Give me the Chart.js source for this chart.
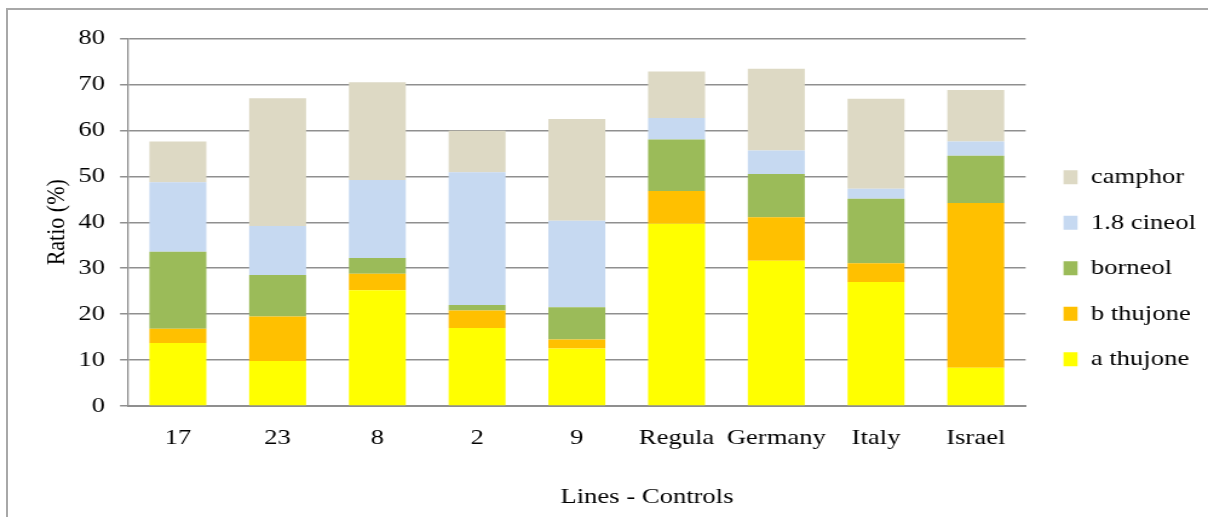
<!DOCTYPE html>
<html>
<head>
<meta charset="utf-8">
<script src="https://cdn.jsdelivr.net/npm/chart.js@4/dist/chart.umd.min.js"></script>
<style>
  html, body { margin: 0; padding: 0; background: #fff; overflow: hidden; }
  #wrap { position: relative; width: 1208px; height: 517px; overflow: hidden; }
  #frame {
    position: absolute; left: 6px; top: 8px; width: 1400px; height: 700px;
    border: 2px solid #a8a8a8; box-sizing: border-box;
  }
  /* the chart is laid out on a narrower canvas and widened to the page */
  #stretch {
    position: absolute; left: 0; top: 0; width: 998px; height: 517px;
    transform: scaleX(1.2104); transform-origin: 0 0;
  }
  canvas { display: block; }
</style>
</head>
<body>
<div id="wrap">
  <div id="frame"></div>
  <div id="stretch"><canvas id="chart" width="998" height="517"></canvas></div>
</div>
<script>
// Samples (lines) and reference controls
const categories = ['17', '23', '8', '2', '9', 'Regula', 'Germany', 'Italy', 'Israel'];

// Share of each compound in the oil, %
const aThujone = [13.7, 9.8, 25.2, 17.0, 12.5, 39.7, 31.6, 27.0, 8.3];
const bThujone = [3.1, 9.7, 3.6, 3.8, 2.0, 7.1, 9.5, 4.1, 35.9];
const borneol  = [16.8, 9.0, 3.4, 1.2, 7.0, 11.2, 9.4, 14.0, 10.3];
const cineol   = [15.1, 10.7, 17.0, 28.9, 18.8, 4.7, 5.1, 2.2, 3.1];
const camphor  = [8.9, 27.8, 21.3, 9.0, 22.2, 10.1, 17.8, 19.6, 11.2];

const seriesNames = ['a thujone', 'b thujone', 'borneol', '1.8 cineol', 'camphor'];
const seriesColors = ['#FFFF00', '#FFC000', '#9BBB59', '#C6D9F1', '#DDD9C4'];
const seriesValues = [aThujone, bThujone, borneol, cineol, camphor];

const yTicks = { min: 0, max: 80, step: 10 };
const xTitle = 'Lines - Controls';
const yTitle = 'Ratio (%)';

const SERIF = "'Liberation Serif', 'Times New Roman', serif";
const AXIS_GRAY = '#8f8f8f';
Chart.defaults.font.family = SERIF;
Chart.defaults.color = '#000';

// Axis title under the category labels
const bottomTitle = {
  id: 'bottomTitle',
  afterDraw(chart) {
    const ctx = chart.ctx;
    ctx.save();
    ctx.font = '22px ' + SERIF;
    ctx.fillStyle = '#000';
    ctx.textAlign = 'center';
    ctx.textBaseline = 'middle';
    ctx.fillText(xTitle, 534.5, 497);
    ctx.restore();
  }
};

new Chart(document.getElementById('chart'), {
  type: 'bar',
  data: {
    labels: categories,
    datasets: seriesValues.map((vals, i) => ({
      label: seriesNames[i],
      data: vals,
      backgroundColor: seriesColors[i],
      borderWidth: 0,
      categoryPercentage: 1.0,
      barPercentage: 0.571
    }))
  },
  options: {
    responsive: false,
    animation: false,
    devicePixelRatio: 1,
    layout: { padding: { top: 38.5, right: 0, bottom: 19, left: 0 } },
    plugins: {
      tooltip: { enabled: false },
      legend: {
        position: 'right',
        reverse: true,
        maxWidth: 143,
        labels: {
          boxWidth: 11.6,
          boxHeight: 14,
          padding: 23.5,
          color: '#000',
          font: { size: 22, family: SERIF }
        }
      }
    },
    scales: {
      x: {
        stacked: true,
        grid: { display: false, drawTicks: false },
        border: { display: true, color: AXIS_GRAY, width: 2 },
        ticks: {
          padding: 19, color: '#000', font: { size: 22 },
          maxRotation: 0, minRotation: 0, autoSkip: false
        },
        afterFit(scale) { scale.height = 92; }
      },
      y: {
        stacked: true,
        min: yTicks.min,
        max: yTicks.max,
        grid: { color: AXIS_GRAY, lineWidth: 1.5, tickLength: 6.6, tickColor: AXIS_GRAY, tickWidth: 1.5 },
        border: { display: true, color: AXIS_GRAY, width: 1.3 },
        ticks: { stepSize: yTicks.step, padding: 12.3, color: '#000', font: { size: 22 } },
        title: { display: true, text: yTitle, color: '#000', font: { size: 22 }, padding: { top: 33.9, bottom: 0 } },
        afterFit(scale) { scale.width = 105.75; }
      },
      legendGap: {
        type: 'linear',
        position: 'right',
        display: true,
        grid: { display: false, drawTicks: false },
        border: { display: false },
        ticks: { display: false },
        afterFit(scale) { scale.width = 7.8; }
      }
    }
  },
  plugins: [bottomTitle]
});
</script>
</body>
</html>
